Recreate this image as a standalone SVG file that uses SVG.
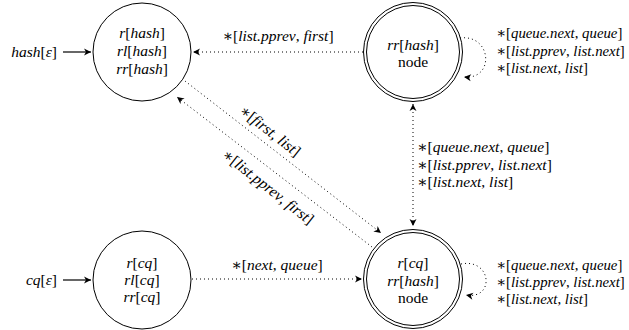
<svg xmlns="http://www.w3.org/2000/svg" width="629" height="330" viewBox="0 0 629 330">
<style>
text{font-family:'Liberation Serif','DejaVu Serif',serif;font-size:15.5px;fill:#000}
.i{font-style:italic}
.u{font-style:normal}
.c{text-anchor:middle}
.l{font-size:14.8px}
.n{fill:none;stroke:#000;stroke-width:1}
.d{fill:none;stroke:#000;stroke-width:1;stroke-dasharray:1 3}
.s{fill:none;stroke:#000;stroke-width:1.2}
</style>
<defs>
<marker id="ah" viewBox="-8 -4 9 8" refX="0" refY="0" markerWidth="9" markerHeight="8" orient="auto-start-reverse" markerUnits="userSpaceOnUse">
<path d="M0,0 L-7,-3.5 L-5,0 L-7,3.5 Z" fill="#000"/>
</marker>
</defs>
<rect width="629" height="330" fill="#fff"/>
<g id="connectors">
<path class="s" d="M63,52 L91,52" marker-end="url(#ah)"/>
<text class="i" x="57" y="57" text-anchor="end">hash<tspan class="u">[</tspan>ε<tspan class="u">]</tspan></text>
<path class="s" d="M63,280 L91,280" marker-end="url(#ah)"/>
<text class="i" x="57" y="285" text-anchor="end">cq<tspan class="u">[</tspan>ε<tspan class="u">]</tspan></text>

<path class="d" d="M363,52 L193,52" marker-end="url(#ah)"/>
<text class="i c" x="278" y="41"><tspan class="u">∗[</tspan>list.pprev<tspan class="u">, </tspan>first<tspan class="u">]</tspan></text>

<path class="d" d="M185,81 L381,233" marker-end="url(#ah)"/>
<text class="i c" transform="translate(267,135) rotate(38)"><tspan class="u">∗[</tspan>first<tspan class="u">, </tspan>list<tspan class="u">]</tspan></text>

<path class="d" d="M372,247 L177,97" marker-end="url(#ah)"/>
<text class="i c" transform="translate(265,191) rotate(38)"><tspan class="u">∗[</tspan>list.pprev<tspan class="u">, </tspan>first<tspan class="u">]</tspan></text>

<path class="d" d="M192,279 L362,279" marker-end="url(#ah)"/>
<text class="i c" x="277" y="270"><tspan class="u">∗[</tspan>next<tspan class="u">, </tspan>queue<tspan class="u">]</tspan></text>

<path class="d" d="M413,104 L413,226" marker-start="url(#ah)" marker-end="url(#ah)"/>
<text class="i" x="417" y="152"><tspan class="u">∗[</tspan>queue.next<tspan class="u">, </tspan>queue<tspan class="u">]</tspan></text>
<text class="i" x="417" y="170"><tspan class="u">∗[</tspan>list.pprev<tspan class="u">, </tspan>list.next<tspan class="u">]</tspan></text>
<text class="i" x="417" y="187"><tspan class="u">∗[</tspan>list.next<tspan class="u">, </tspan>list<tspan class="u">]</tspan></text>

<path class="d" d="M460,38 C492,34 495,80 464,77" marker-end="url(#ah)"/>
<text class="i l" x="496" y="38"><tspan class="u">∗[</tspan>queue.next<tspan class="u">, </tspan>queue<tspan class="u">]</tspan></text>
<text class="i l" x="496" y="56"><tspan class="u">∗[</tspan>list.pprev<tspan class="u">, </tspan>list.next<tspan class="u">]</tspan></text>
<text class="i l" x="496" y="73"><tspan class="u">∗[</tspan>list.next<tspan class="u">, </tspan>list<tspan class="u">]</tspan></text>

<path class="d" d="M461,264 C492,258 495,300 466,295" marker-end="url(#ah)"/>
<text class="i l" x="496" y="270"><tspan class="u">∗[</tspan>queue.next<tspan class="u">, </tspan>queue<tspan class="u">]</tspan></text>
<text class="i l" x="496" y="287"><tspan class="u">∗[</tspan>list.pprev<tspan class="u">, </tspan>list.next<tspan class="u">]</tspan></text>
<text class="i l" x="496" y="304"><tspan class="u">∗[</tspan>list.next<tspan class="u">, </tspan>list<tspan class="u">]</tspan></text>
</g>
<g id="node-hash">
<circle class="n" cx="142" cy="52" r="49"/>
<text class="i c" x="142" y="38">r<tspan class="u">[</tspan>hash<tspan class="u">]</tspan></text>
<text class="i c" x="142" y="56">rl<tspan class="u">[</tspan>hash<tspan class="u">]</tspan></text>
<text class="i c" x="142" y="74">rr<tspan class="u">[</tspan>hash<tspan class="u">]</tspan></text>
</g>
<g id="node-rrhash">
<circle class="n" cx="413" cy="52" r="49.5"/>
<circle class="n" cx="413" cy="52" r="46.5"/>
<text class="i c" x="413" y="50">rr<tspan class="u">[</tspan>hash<tspan class="u">]</tspan></text>
<text class="c" x="413" y="67">node</text>
</g>
<g id="node-cq">
<circle class="n" cx="142" cy="280" r="49"/>
<text class="i c" x="142" y="268">r<tspan class="u">[</tspan>cq<tspan class="u">]</tspan></text>
<text class="i c" x="142" y="285">rl<tspan class="u">[</tspan>cq<tspan class="u">]</tspan></text>
<text class="i c" x="142" y="302">rr<tspan class="u">[</tspan>cq<tspan class="u">]</tspan></text>
</g>
<g id="node-cqhash">
<circle class="n" cx="413" cy="279" r="49.5"/>
<circle class="n" cx="413" cy="279" r="46.5"/>
<text class="i c" x="413" y="268">r<tspan class="u">[</tspan>cq<tspan class="u">]</tspan></text>
<text class="i c" x="413" y="286">rr<tspan class="u">[</tspan>hash<tspan class="u">]</tspan></text>
<text class="c" x="413" y="303">node</text>
</g>
</svg>
